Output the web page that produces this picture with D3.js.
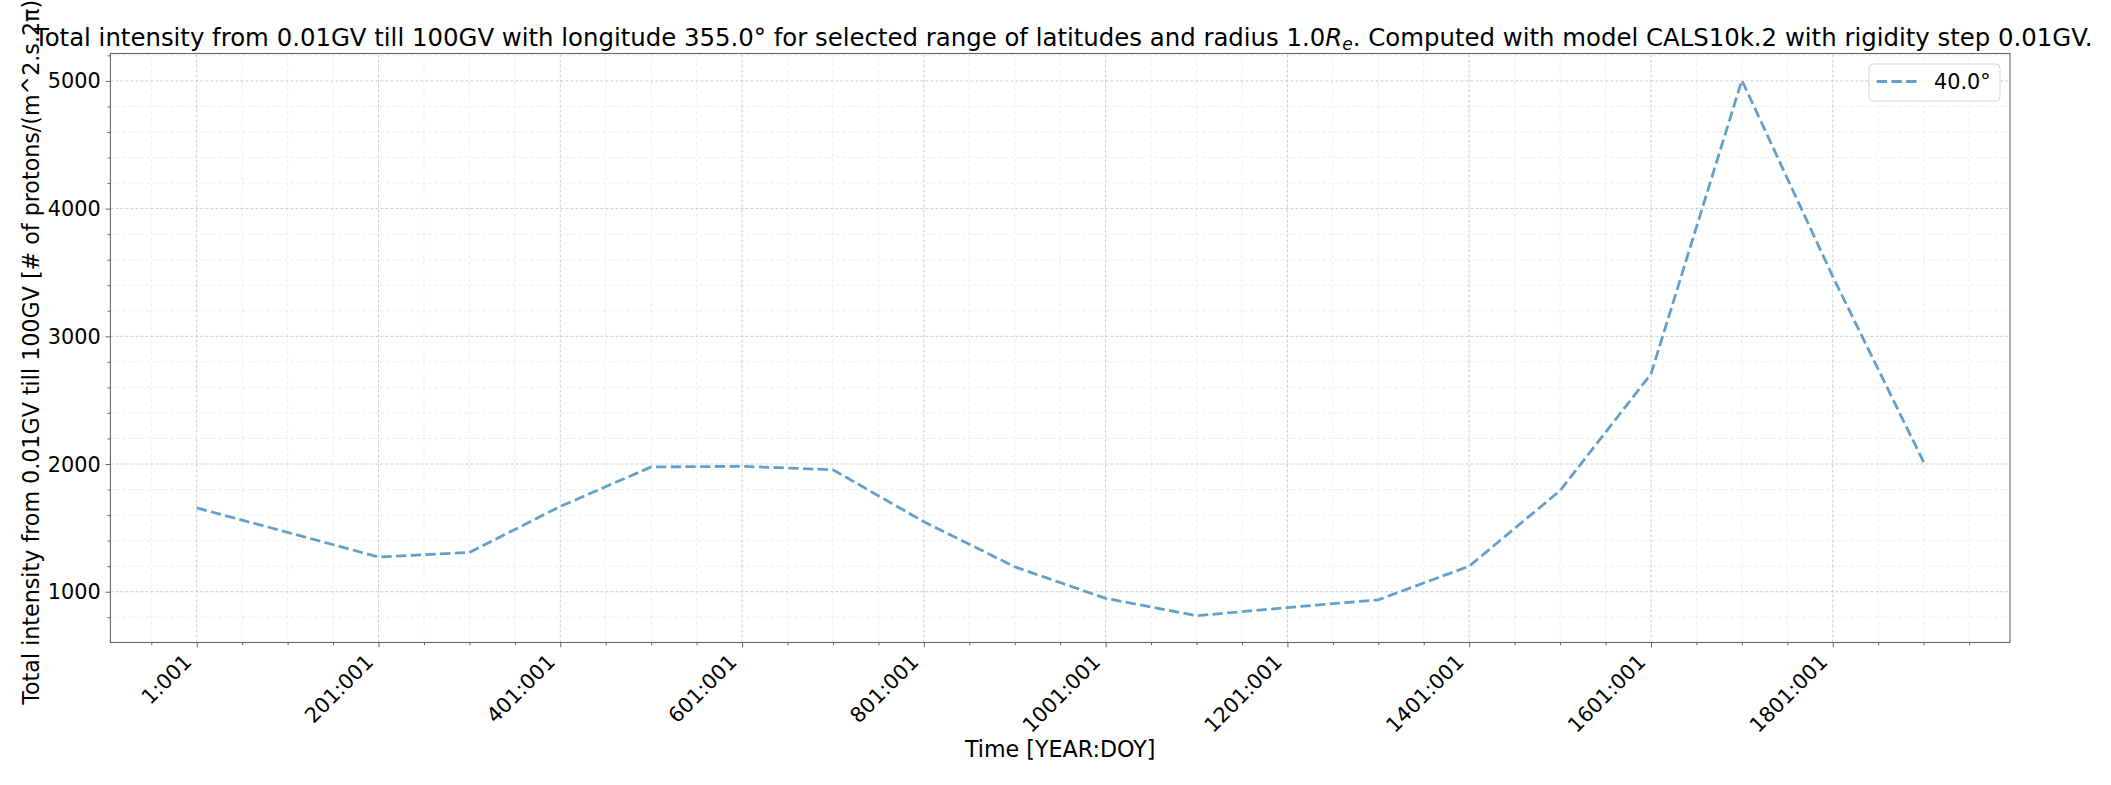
<!DOCTYPE html>
<html>
<head>
<meta charset="utf-8">
<script src="https://cdn.jsdelivr.net/npm/d3@7"></script>
<style>
  body { margin: 0; background: #fff; }
  svg { font-family: "DejaVu Sans", sans-serif; }
</style>
</head>
<body>
<script>
// data
var days = [1, 101, 201, 301, 401, 501, 601, 701, 801, 901,
            1001, 1101, 1201, 1301, 1401, 1501, 1601, 1701, 1801, 1901];
var intensity = [1656, 1465, 1272, 1307, 1668, 1977, 1982, 1955, 1548, 1195,
                 948, 812, 876, 937, 1200, 1792, 2705, 5005, 3468, 2015];
var xTicks = [1, 201, 401, 601, 801, 1001, 1201, 1401, 1601, 1801];
var xTickLabels = ["1:001", "201:001", "401:001", "601:001", "801:001",
                   "1001:001", "1201:001", "1401:001", "1601:001", "1801:001"];
var yTicks = [1000, 2000, 3000, 4000, 5000];
var seriesName = "40.0°";

var W = 2111, H = 785;
var margin = {left: 110.4, right: 101, top: 53.5, bottom: 142.5};

var svg = d3.select("body").append("svg")
    .attr("width", W)
    .attr("height", H);

// matplotlib style 5% margins
var pad = function(ext) {
    var d = ext[1] - ext[0];
    return [ext[0] - 0.05 * d, ext[1] + 0.05 * d];
};

var x = d3.scaleLinear()
    .domain(pad(d3.extent(days)))
    .range([margin.left, W - margin.right]);
var y = d3.scaleLinear()
    .domain(pad(d3.extent(intensity)))
    .range([H - margin.bottom, margin.top]);

var x0 = margin.left, x1 = W - margin.right;
var y0 = H - margin.bottom, y1 = margin.top;

// minor tick positions
var xMinor = d3.range(-49, x.domain()[1], 50).filter(function(v) {
    return v >= x.domain()[0] && xTicks.indexOf(v) < 0;
});
var yMinor = d3.range(600, y.domain()[1], 200).filter(function(v) {
    return v >= y.domain()[0] && yTicks.indexOf(v) < 0;
});

// Grid
var grid = svg.append("g");
grid.selectAll(".xminor").data(xMinor).enter().append("line")
    .attr("x1", x).attr("x2", x).attr("y1", y0).attr("y2", y1)
    .style("stroke", "#e6e6e6").style("stroke-width", 0.8)
    .style("stroke-dasharray", "3,3");
grid.selectAll(".yminor").data(yMinor).enter().append("line")
    .attr("x1", x0).attr("x2", x1).attr("y1", y).attr("y2", y)
    .style("stroke", "#e6e6e6").style("stroke-width", 0.8)
    .style("stroke-dasharray", "3,3");
grid.selectAll(".xmajor").data(xTicks).enter().append("line")
    .attr("x1", x).attr("x2", x).attr("y1", y0).attr("y2", y1)
    .style("stroke", "#c0c0c0").style("stroke-width", 0.8)
    .style("stroke-dasharray", "3,2");
grid.selectAll(".ymajor").data(yTicks).enter().append("line")
    .attr("x1", x0).attr("x2", x1).attr("y1", y).attr("y2", y)
    .style("stroke", "#c0c0c0").style("stroke-width", 0.8)
    .style("stroke-dasharray", "3,2");

// Axes
svg.append("g")
    .attr("transform", "translate(0," + y0 + ")")
    .call(d3.axisBottom(x).tickValues(xTicks).tickSize(4.9).tickFormat(""));
svg.append("g")
    .attr("transform", "translate(" + x0 + ",0)")
    .call(d3.axisLeft(y).tickValues(yTicks).tickSize(4.9).tickFormat(""));
svg.append("g")
    .attr("transform", "translate(0," + y0 + ")")
    .call(d3.axisBottom(x).tickValues(xMinor).tickSize(2.8).tickFormat(""));
svg.append("g")
    .attr("transform", "translate(" + x0 + ",0)")
    .call(d3.axisLeft(y).tickValues(yMinor).tickSize(2.8).tickFormat(""));
svg.selectAll(".domain").remove();
svg.selectAll(".tick line").style("stroke", "#666").style("stroke-width", 1);

// tick labels
svg.selectAll(".ylab").data(yTicks).enter().append("text")
    .attr("x", x0 - 9.7)
    .attr("y", y)
    .attr("dy", "0.36em")
    .attr("text-anchor", "end")
    .style("font-size", "20.8px")
    .text(function(d) { return d; });

svg.selectAll(".xlab").data(xTicks).enter().append("text")
    .attr("text-anchor", "end")
    .attr("transform", function(d) {
        return "translate(" + (x(d) - 4) + "," + (y0 + 9.7 + 11) + ") rotate(-45)";
    })
    .style("font-size", "20.8px")
    .text(function(d, i) { return xTickLabels[i]; });

// frame
svg.append("rect")
    .attr("x", x0).attr("y", y1)
    .attr("width", x1 - x0).attr("height", y0 - y1)
    .style("fill", "none").style("stroke", "#666").style("stroke-width", 1.1);

// Series line
var line = d3.line()
    .x(function(d, i) { return x(days[i]); })
    .y(function(d) { return y(d); });
svg.append("path")
    .datum(intensity)
    .attr("d", line)
    .style("fill", "none")
    .style("stroke", "#62a0cb")
    .style("stroke-width", 2.78)
    .style("stroke-dasharray", "10.3,4.4");

// Legend
var lg = svg.append("g");
lg.append("rect")
    .attr("x", 1869).attr("y", 64).attr("width", 131).attr("height", 37)
    .attr("rx", 4)
    .style("fill", "#fff").style("fill-opacity", 0.8)
    .style("stroke", "#d6d6d6").style("stroke-width", 1);
lg.append("line")
    .attr("x1", 1876.7).attr("x2", 1916.7).attr("y1", 81.5).attr("y2", 81.5)
    .style("stroke", "#62a0cb").style("stroke-width", 2.78)
    .style("stroke-dasharray", "10.3,4.4");
lg.append("text")
    .attr("x", 1934).attr("y", 89)
    .style("font-size", "20.8px")
    .text(seriesName);

// Title
var title = svg.append("text")
    .attr("x", (x0 + x1) / 2 + 3)
    .attr("y", 46)
    .attr("text-anchor", "middle")
    .style("font-size", "24.4px");
title.append("tspan").text("Total intensity from 0.01GV till 100GV with longitude 355.0° for selected range of latitudes and radius 1.0");
title.append("tspan").style("font-style", "italic").text("R");
title.append("tspan").attr("dy", 4).style("font-size", "17px").style("font-style", "italic").text("e");
title.append("tspan").attr("dy", -4).text(". Computed with model CALS10k.2 with rigidity step 0.01GV.");

// axis labels
svg.append("text")
    .attr("x", (x0 + x1) / 2)
    .attr("y", 757)
    .attr("text-anchor", "middle")
    .style("font-size", "22.2px")
    .text("Time [YEAR:DOY]");
svg.append("text")
    .attr("transform", "translate(39," + ((y0 + y1) / 2) + ") rotate(-90)")
    .attr("text-anchor", "middle")
    .style("font-size", "22.2px")
    .text("Total intensity from 0.01GV till 100GV [# of protons/(m^2.s.2π)]");
</script>
</body>
</html>
